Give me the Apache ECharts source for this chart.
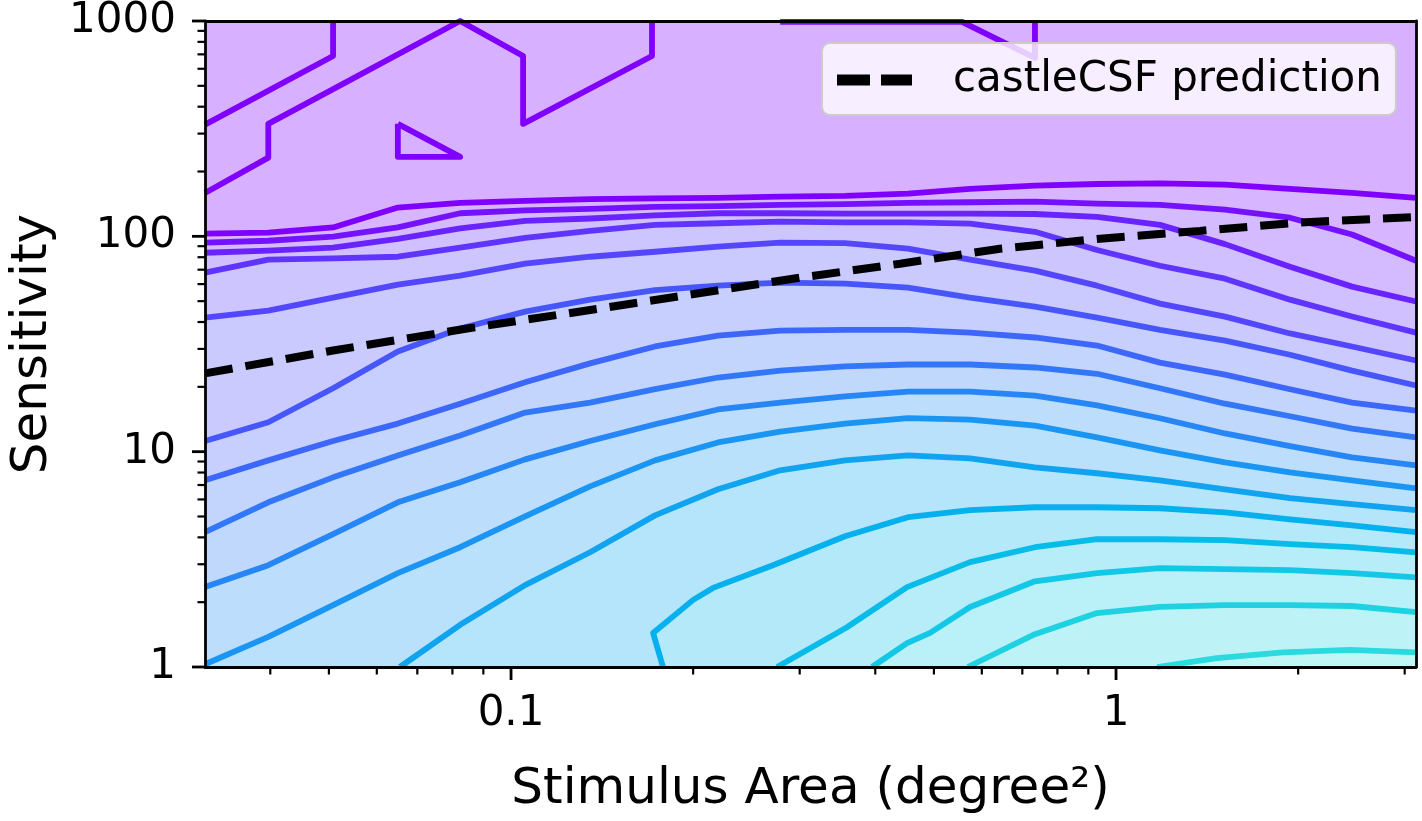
<!DOCTYPE html>
<html><head><meta charset="utf-8">
<script src="https://cdn.jsdelivr.net/npm/echarts@6/dist/echarts.min.js"></script>
<style>html,body{margin:0;padding:0;background:#fff}#c{width:1422px;height:821px}</style>
</head><body><div id="c"></div>
<script>
// ---- axis ranges ----
const X_MIN = 0.0312, X_MAX = 3.132, Y_MIN = 1, Y_MAX = 1000;

// ---- x sample columns (stimulus area, degree^2) ----
const xGrid = [0.0312,0.0397,0.0508,0.065,0.0824,0.1055,0.1351,0.173,0.2198,0.2786,0.3565,0.453,0.5738,0.7345,0.9302,1.182,1.514,1.939,2.455,3.132];

// ---- contour lines spanning the full width (sensitivity at each column), highest level first ----
const L1  = [103,104,110,136,143,146,149,150,151,153,154,158,166,172,175,176,174,166,159,151];
const L2  = [93.4,95.4,99.6,110,128,132,134,137,138,140,141,143,144,145,142,140,133,122,102,77];
const L3  = [83.9,85.8,88.6,97.4,109,118,121,125,128,128,127.5,127.5,127.5,127,123,113,92,72.3,58.4,49.8];
const L4  = [67.8,77.9,79,80.4,88.6,98.4,106,113,115,117,116,116,114.5,105,86.4,73,63.6,50.8,42.4,35.7];
const L5  = [41.9,45.2,51.9,59.7,65.7,74.7,80.4,84.8,89.5,93.4,92.9,87.6,77.9,69.3,59,48.7,42.4,35.4,30.8,26.5];
const L6  = [11.2,13.7,19.7,29.2,37.3,44.7,50.8,56.3,59,61,60.3,57.8,51.9,47.2,41.9,36.8,32.8,28.2,23.8,20.3];
const L7  = [7.36,9.11,11.2,13.5,16.7,21,25.7,30.8,34.6,36.5,36.8,36.8,35.7,33.9,31.1,25.9,22.8,19.5,16.9,15.5];
const L8  = [4.23,5.82,7.6,9.61,11.9,15.2,16.9,19.5,22.1,23.8,24.9,25.4,25.4,24.6,23,19.7,16.7,14.6,12.8,11.65];
const L9  = [2.35,2.97,4.14,5.82,7.21,9.21,11.2,13.4,15.7,16.9,18.05,19,19,18.2,16.4,14.3,12.15,10.6,9.41,8.64];
const L10 = [1.03,1.38,1.94,2.73,3.6,5.01,6.9,9.11,11.04,12.4,13.5,14.3,14.1,13.2,11.65,10.14,8.92,8.02,7.36,6.76];

// ---- contour lines starting on the bottom edge ([area, sensitivity]) ----
const L11 = [[0.0655,1],[0.0824,1.57],[0.1055,2.4],[0.1351,3.41],[0.173,5.06],[0.2198,6.69],[0.2786,8.19],[0.3565,9.11],[0.453,9.61],[0.5738,9.31],[0.7345,8.46],[0.9302,7.94],[1.182,7.36],[1.514,6.69],[1.939,6.08],[2.455,5.7],[3.132,5.35]];
const L12 = [[0.1783,1],[0.1717,1.44],[0.2,2.05],[0.2157,2.33],[0.271,2.97],[0.3565,4.05],[0.453,4.96],[0.5738,5.35],[0.7345,5.52],[0.9302,5.52],[1.182,5.46],[1.514,5.23],[1.939,4.85],[2.455,4.55],[3.132,4.23]];
const L13 = [[0.2753,1],[0.3458,1.44],[0.3591,1.53],[0.4514,2.35],[0.5738,3.07],[0.7345,3.6],[0.9302,3.92],[1.182,3.92],[1.514,3.88],[1.939,3.72],[2.455,3.6],[3.132,3.41]];
const L14 = [[0.395,1],[0.4514,1.29],[0.4928,1.44],[0.5738,1.9],[0.7345,2.5],[0.9302,2.73],[1.182,2.88],[1.514,2.85],[1.939,2.82],[2.455,2.73],[3.132,2.61]];
const L15 = [[0.569,1],[0.7345,1.42],[0.9302,1.78],[1.182,1.9],[1.514,1.94],[1.939,1.94],[2.455,1.92],[3.132,1.8]];
const L16 = [[1.169,1],[1.468,1.1],[1.888,1.17],[2.437,1.2],[3.132,1.17]];

// ---- noisy high-level contours near the top ----
const noiseA = [[0.0312,330],[0.0508,688],[0.0508,1000]];
const noiseB = [[0.0312,159],[0.0397,232],[0.0397,333],[0.0824,1000],[0.1047,688],[0.1047,333],[0.171,688],[0.171,1000]];
const noiseC = [[0.065,333],[0.065,234],[0.0824,234],[0.065,333]];
const noiseD = [[0.2786,990],[0.5565,990],[0.7345,674],[0.7345,1000]];

// ---- castleCSF prediction ----
const castleArea = [0.0312,0.0508,0.0846,0.1403,0.3004,0.4395,0.643,0.941,1.377,2.014,3.132];
const castleSens = [23.1,29.5,37.3,46.2,64.3,74.6,87.6,97.5,106,116,123];

// ---- ticks ----
const xMajorTicks = [0.1, 1];
const xMinorTicks = [0.04,0.05,0.06,0.07,0.08,0.09,0.2,0.3,0.4,0.5,0.6,0.7,0.8,0.9,2,3];
const yMajorTicks = [1, 10, 100, 1000];
const yMinorTicks = [2,3,4,5,6,7,8,9,20,30,40,50,60,70,80,90,200,300,400,500,600,700,800,900];

// ---- build ----
const fullLines = [L1,L2,L3,L4,L5,L6,L7,L8,L9,L10].map(ys => xGrid.map((x,i)=>[x, ys[i]]));
const contours = fullLines.concat([L11,L12,L13,L14,L15,L16]);
const noise = [noiseA, noiseB, noiseC, noiseD];

function rainbow(t){ return [Math.abs(2*t-0.5), Math.sin(Math.PI*t), Math.cos(Math.PI*t/2)]; }
function tint(c,a){ return c.map(v=>1-a+a*v); }
function rgb(c){ return 'rgb(' + c.map(v=>Math.round(Math.min(1,Math.max(0,v))*255)).join(',') + ')'; }
const STEP = 0.022;
const lineColor = k => rgb(rainbow(k*STEP));
const bandColor = k => rgb(tint(rainbow((k+0.5)*STEP), 0.3));
const topColor = rgb(tint(rainbow(0), 0.31));

const FONT = 'DejaVu Sans';
const LW = 5.8;
const decadeFmt = v => { const l = Math.log10(v); return Math.abs(l - Math.round(l)) < 1e-6 ? String(+v.toPrecision(6)) : ''; };

const series = [];
// filled bands
series.push({
  type:'custom', coordinateSystem:'cartesian2d', z:1, silent:true, clip:true,
  encode:{x:0, y:1},
  data: contours.map((c,i)=>[X_MIN, Y_MIN, i]),
  renderItem(params, api){
    const i = api.value(2);
    const pts = contours[i];
    const poly = pts.map(p=>api.coord(p));
    poly.push(api.coord([pts[pts.length-1][0], Y_MIN]));
    poly.push(api.coord([pts[0][0], Y_MIN]));
    return {type:'polygon', shape:{points:poly}, style:{fill:bandColor(i), stroke:null}};
  }
});
// contour lines
contours.forEach((pts,k)=>{
  series.push({type:'line', data:pts, symbol:'none', silent:true, z:2, animation:false,
    lineStyle:{color:lineColor(k), width:LW, join:'round'}});
});
noise.forEach(pts=>{
  series.push({type:'line', data:pts, symbol:'none', silent:true, z:2, animation:false,
    lineStyle:{color:lineColor(0), width:LW, join:'round'}});
});
// prediction
series.push({type:'line', name:'castleCSF prediction', data:castleArea.map((x,i)=>[x, castleSens[i]]),
  symbol:'none', z:3, animation:false, itemStyle:{color:'#000'},
  lineStyle:{color:'#000', width:8, type:[28,13]}});
// ticks
const tickData = []
  .concat(xMajorTicks.map(v=>[v, Y_MIN, 1, 0]))
  .concat(xMinorTicks.map(v=>[v, Y_MIN, 0, 0]))
  .concat(yMajorTicks.map(v=>[X_MIN, v, 1, 1]))
  .concat(yMinorTicks.map(v=>[X_MIN, v, 0, 1]));
series.push({
  type:'custom', coordinateSystem:'cartesian2d', z:20, silent:true, clip:false,
  encode:{x:0, y:1}, data:tickData,
  renderItem(params, api){
    const major = api.value(2), kind = api.value(3);
    const p = api.coord([api.value(0), api.value(1)]);
    const len = major ? 13 : 7.5, w = major ? 2.8 : 2.2;
    const shape = kind === 0 ? {x1:p[0], y1:p[1], x2:p[0], y2:p[1]+len} : {x1:p[0]-len, y1:p[1], x2:p[0], y2:p[1]};
    return {type:'line', shape, style:{stroke:'#000', lineWidth:w}};
  }
});

const axisLine = {show:true, onZero:false, lineStyle:{color:'#000', width:2.8}};
const option = {
  animation:false,
  backgroundColor:'#fff',
  grid:{left:205, right:6, top:20, bottom:154, show:true, backgroundColor:topColor, borderWidth:0},
  legend:{
    data:[{name:'castleCSF prediction', icon:'path://M0,0H33V11H0ZM44,0H75V11H44Z'}],
    left:822, top:43, itemWidth:75, itemHeight:11, selectedMode:false,
    padding:[16,14,14,15], backgroundColor:'rgba(255,255,255,0.8)', borderColor:'#cccccc', borderWidth:2, borderRadius:8,
    itemStyle:{borderWidth:0},
    textStyle:{fontSize:42, fontFamily:FONT, color:'#000', padding:[0,0,0,36]}
  },
  xAxis:[
    {type:'log', logBase:10, min:X_MIN, max:X_MAX, position:'bottom', z:10,
     axisLine, axisTick:{show:false}, minorTick:{show:false}, splitLine:{show:false},
     axisLabel:{interval:0, margin:26, color:'#000', fontSize:42, fontFamily:FONT, formatter:decadeFmt},
     name:'Stimulus Area (degree²)', nameLocation:'middle', nameGap:98,
     nameTextStyle:{fontSize:50, fontFamily:FONT, color:'#000'}},
    {type:'log', logBase:10, min:X_MIN, max:X_MAX, position:'top', z:10,
     axisLine, axisTick:{show:false}, axisLabel:{show:false}, splitLine:{show:false}}
  ],
  yAxis:[
    {type:'log', logBase:10, min:Y_MIN, max:Y_MAX, position:'left', z:10,
     axisLine, axisTick:{show:false}, minorTick:{show:false}, splitLine:{show:false},
     axisLabel:{interval:0, margin:29, color:'#000', fontSize:42, fontFamily:FONT, formatter:decadeFmt},
     name:'Sensitivity', nameLocation:'middle', nameRotate:90, nameGap:146,
     nameTextStyle:{fontSize:50, fontFamily:FONT, color:'#000'}},
    {type:'log', logBase:10, min:Y_MIN, max:Y_MAX, position:'right', z:10,
     axisLine, axisTick:{show:false}, axisLabel:{show:false}, splitLine:{show:false}}
  ],
  series
};
const chart = echarts.init(document.getElementById('c'), null, {renderer:'canvas'});
chart.setOption(option);
</script></body></html>
